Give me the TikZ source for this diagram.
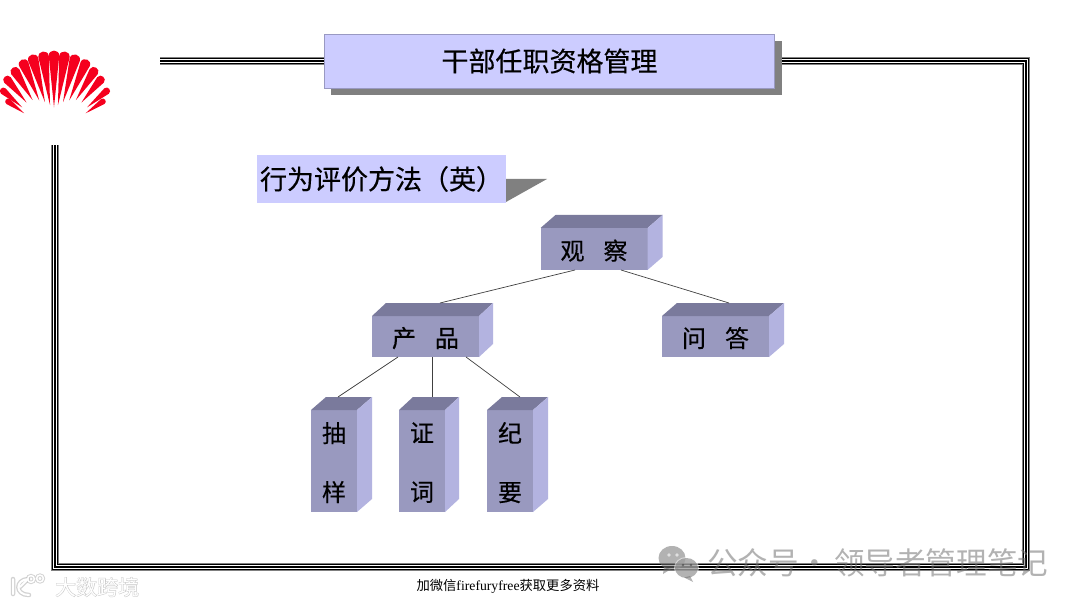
\documentclass[tikz,border=0pt]{standalone}
\usepackage{fontspec}
\setmainfont{Noto Sans CJK SC}
\newfontfamily\heavycjk[FakeBold=0.35]{Noto Sans CJK SC}
\newfontfamily\halocjk[FakeBold=3]{Noto Sans CJK SC}
\newfontfamily\serfont{Liberation Serif}
\usetikzlibrary{calc}
\definecolor{paleblue}{HTML}{CCCCFF}
\definecolor{frontface}{HTML}{9999BF}
\definecolor{topface}{HTML}{7A7A9C}
\definecolor{sideface}{HTML}{B3B3E0}
\definecolor{shadowgray}{HTML}{808080}
\definecolor{logored}{HTML}{F5001E}
\tikzset{
  x=1pt,y=-1pt,
  framelayer/.style={line join=miter,line cap=butt},
  cubefront/.style={fill=frontface,inner sep=0pt,outer sep=0pt,align=center,text=black,font=\heavycjk\fontsize{24}{59}\selectfont},
  conn/.style={draw=black!75,line width=0.7pt},
  halo/.style={text=black!22,font=\halocjk\fontsize{21}{21}\selectfont},
}
\newcommand{\cubebox}[8]{% name, cx, cy, w, h, dx, dy, text
  \node[cubefront,minimum width=#4pt,minimum height=#5pt] (#1) at (#2,#3) {};
  \node[font=\heavycjk\fontsize{24}{59}\selectfont,align=center,inner sep=0pt] (#1t) at ([yshift=-1.6pt]#1.center) {#8};
  \fill[topface] (#1.north west) -- ++(#6,-#7) -- ([xshift=#6pt,yshift=#7pt]#1.north east) -- (#1.north east) -- cycle;
  \fill[sideface] (#1.north east) -- ++(#6,-#7) -- ([xshift=#6pt,yshift=#7pt]#1.south east) -- (#1.south east) -- cycle;
}
\begin{document}
\begin{tikzpicture}
\useasboundingbox (0,0) rectangle (1080,607);
\fill[white] (0,0) rectangle (1080,607);
% frame
\coordinate (fstart) at (160,61);
\coordinate (fne) at (1026,61);
\coordinate (fse) at (1026,567);
\coordinate (fsw) at (55,567);
\coordinate (fend) at (55,145);
\draw[framelayer,line width=8.4pt,draw=shadowgray] (fstart) -- (fne) -- (fse) -- (fsw) -- (fend);
\draw[framelayer,line width=6pt,draw=black] (fstart) -- (fne) -- (fse) -- (fsw) -- (fend);
\draw[framelayer,line width=3.6pt,draw=white] (fstart) -- (fne) -- (fse) -- (fsw) -- (fend);
\draw[framelayer,line width=1.6pt,draw=black] (fstart) -- (fne) -- (fse) -- (fsw) -- (fend);
% logo
\foreach \tx/\ty/\f/\w in {
  6/100/0.62/6, 1/89/0.60/7, 5/77/0.56/8.5, 13/68/0.52/9.5, 22/60/0.46/10, 32/55/0.41/10.5, 43/52/0.36/10.5, 54/51/0.33/10.5,
  65/52/0.36/10.5, 76/55/0.41/10.5, 87/60/0.46/10, 96/68/0.52/9.5, 103/77/0.56/8.5, 109/89/0.60/7, 105/100/0.62/6}{
  \pgfmathsetmacro{\ddx}{\tx-54}
  \pgfmathsetmacro{\ddy}{\ty-135}
  \pgfmathsetmacro{\len}{veclen(\ddx,\ddy)}
  \pgfmathsetmacro{\ux}{\ddx/\len}
  \pgfmathsetmacro{\uy}{\ddy/\len}
  \pgfmathsetmacro{\nx}{-\uy*\w/2}
  \pgfmathsetmacro{\ny}{\ux*\w/2}
  \pgfmathsetmacro{\ix}{54+\ddx*\f}
  \pgfmathsetmacro{\iy}{135+\ddy*\f}
  \pgfmathsetmacro{\ax}{\tx-\ux*\w*0.45}
  \pgfmathsetmacro{\ay}{\ty-\uy*\w*0.45}
  \pgfmathsetmacro{\cx}{\tx+\ux*\w*0.2}
  \pgfmathsetmacro{\cy}{\ty+\uy*\w*0.2}
  \fill[logored] (\ix,\iy) -- (\ax+\nx,\ay+\ny)
    .. controls (\cx+\nx,\cy+\ny) and (\cx-\nx,\cy-\ny) .. (\ax-\nx,\ay-\ny) -- cycle;
}
% title
\fill[shadowgray] (331,41) rectangle (782,95);
\node[draw=black!60!blue!40,fill=paleblue,line width=0.8pt,minimum width=450pt,minimum height=54pt,inner sep=0pt,outer sep=0pt,font=\heavycjk\fontsize{27}{27}\selectfont] (title) at (549.5,61) {干部任职资格管理};
% subtitle
\fill[shadowgray] (506,179) -- (547,179) -- (506,202) -- cycle;
\node[fill=paleblue,minimum width=249pt,minimum height=48pt,inner sep=0pt,outer sep=0pt,text width=243pt,font=\heavycjk\fontsize{27}{27}\selectfont,align=left] (sub) at (381.5,179) {行为评价方法（英）};
% cubes
\cubebox{gc}{594}{249}{107}{42}{15}{13}{观\hspace{19pt}察}
\cubebox{cp}{425.5}{336.5}{107}{41}{14}{13}{产\hspace{19pt}品}
\cubebox{wd}{715.5}{336.5}{107}{41}{15}{13}{问\hspace{19pt}答}
\cubebox{cy}{334}{461}{46}{102}{15}{13}{抽\\样}
\cubebox{zc}{422}{461}{46}{102}{14}{13}{证\\词}
\cubebox{jy}{510}{461}{46}{102}{15}{13}{纪\\要}
% connectors
\draw[conn] ([xshift=-19pt]gc.south) -- ([xshift=14.5pt,yshift=13pt]cp.north);
\draw[conn] ([xshift=27pt]gc.south) -- ([xshift=13.5pt,yshift=13pt]wd.north);
\draw[conn] ([xshift=-27.5pt]cp.south) -- ([xshift=4pt,yshift=13pt]cy.north);
\draw[conn] ([xshift=6.5pt]cp.south) -- ([xshift=10pt,yshift=13pt]zc.north);
\draw[conn] ([xshift=40.5pt]cp.south) -- ([xshift=10pt,yshift=13pt]jy.north);
% footer
\node[font=\fontsize{13.3}{13.3}\selectfont,inner sep=0pt] (foot) at (508,586) {加微信{\serfont\fontsize{13.7}{13.7}\selectfont firefuryfree}获取更多资料};
% watermark right
\begin{scope}[opacity=0.55,black!55]
\fill (672,558) ellipse (13.5 and 12);
\fill (664,567) -- (663,574) -- (671,569) -- cycle;
\fill[white] (686.5,568) ellipse (12.5 and 11);
\fill (686.5,568) ellipse (11.5 and 10);
\fill (690,576) -- (693,582) -- (684,577.5) -- cycle;
\end{scope}
\fill[white,opacity=.6] (669,555) circle (1.8) (677,555) circle (1.8);
\fill[black!75,opacity=.6] (683,565) circle (1.4) (691,565) circle (1.4);
\node[font=\fontsize{30.6}{30.6}\selectfont,text=black!55,opacity=0.55,inner sep=0pt,anchor=west] (wm) at (707,563) {公众号·\kern4.5pt 领导者管理笔记};
% watermark left
\node[halo,inner sep=0pt,anchor=west] (wmh) at (55,587) {大数跨境};
\node[font=\fontsize{21}{21}\selectfont,text=white,inner sep=0pt,anchor=west] (wml) at (55,587) {大数跨境};
\foreach \lw/\cc/\op in {4.5/black!25/0.7,2/white/1}{
  \draw[line width=\lw pt,draw=\cc,opacity=\op,line cap=round]
    (13,579) -- (13,594)
    (28,579) .. controls (15,580) and (15,595) .. (29,595)
    (20,587) -- (28,579);
  \draw[line width=\lw pt * 0.75,draw=\cc,opacity=\op] (31,579) circle (3.4) (40,578.5) circle (3.4);
}
\end{tikzpicture}
\end{document}
